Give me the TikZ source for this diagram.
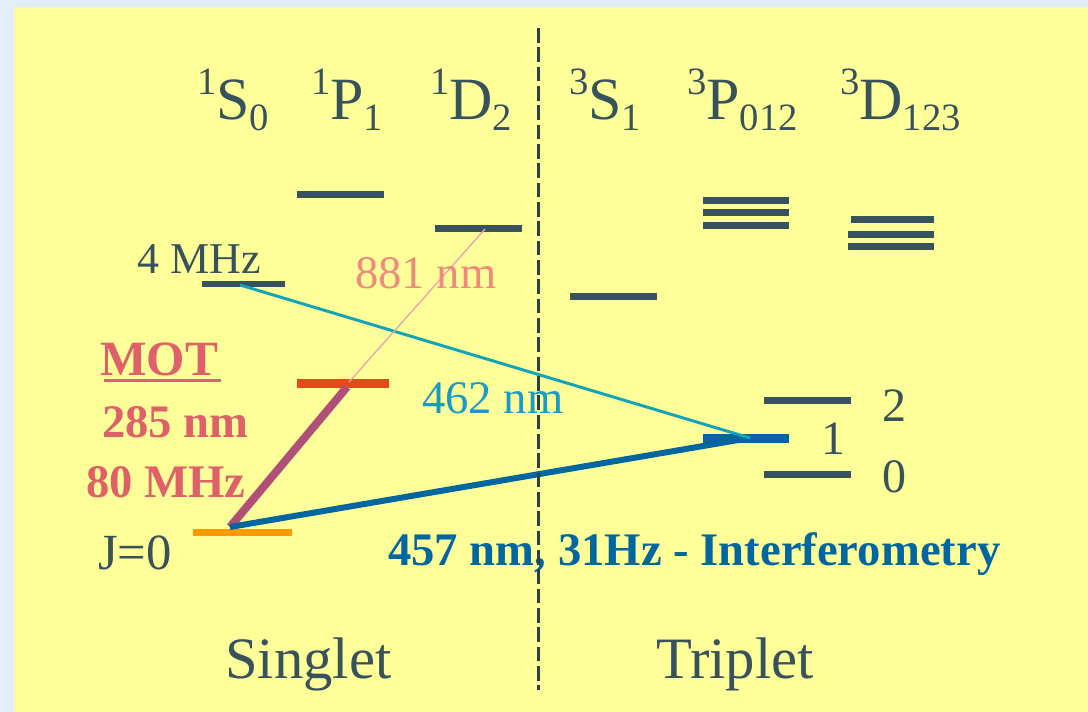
\documentclass[tikz,border=0pt]{standalone}
\usepackage{fontspec}
\setmainfont{Liberation Serif}
\definecolor{slate}{HTML}{37525A}
\definecolor{bgblue}{HTML}{E2EEFB}
\definecolor{yel}{HTML}{FFFF99}
\definecolor{motred}{HTML}{DE6068}
\definecolor{pinkt}{HTML}{F08A7E}
\definecolor{tealt}{HTML}{1A9AC8}
\definecolor{teall}{HTML}{12A4B8}
\definecolor{blueb}{HTML}{0066A0}
\definecolor{orangeg}{HTML}{FF9900}
\definecolor{redp}{HTML}{E84818}
\definecolor{purp}{HTML}{B05078}
\definecolor{pinkl}{HTML}{F0A0B0}
\definecolor{divc}{HTML}{2E3F45}
\newcommand{\trm}[3]{\raisebox{18.75pt}{\fontsize{29}{30}\selectfont #1}#2\raisebox{-8.25pt}{\fontsize{29}{30}\selectfont #3}}
\tikzset{
  txt/.style={inner sep=0pt, anchor=base west},
  term/.style={txt, text=slate, font=\fontsize{45}{48}\selectfont},
  lvl/.style={fill=slate, inner sep=0pt, minimum height=5.25pt},
  lab/.style={txt, text=slate, font=\fontsize{36}{40}\selectfont},
}
\begin{document}
\begin{tikzpicture}[x=0.75pt,y=-0.75pt]
\fill[bgblue] (0,0) rectangle (1088,712);
\fill[yel] (14,7) rectangle (1088,712);
\useasboundingbox (0,0) rectangle (1088,712);

% term labels
\node[term] (tS0) at (197,120) {\trm{1}{S}{0}};
\node[term] (tP1) at (311,120) {\trm{1}{P}{1}};
\node[term] (tD2) at (430,120) {\trm{1}{D}{2}};
\node[term] (tS1) at (569,120) {\trm{3}{S}{1}};
\node[term] (tP3) at (687,120) {\trm{3}{P}{012}};
\node[term] (tD3) at (840,120) {\trm{3}{D}{123}};

% singlet levels
\node[lvl, minimum width=65.25pt] (P1) at (340.5,194.5) {};
\node[lvl, minimum width=65.25pt] (D2) at (478.5,228.5) {};
\node[lvl, minimum width=62.25pt, minimum height=4.5pt] (S0u) at (243.5,284) {};
\node[lvl, fill=redp, minimum width=69pt, minimum height=6.75pt] (P1r) at (343,383.5) {};
\node[lvl, fill=orangeg, minimum width=74.25pt] (G) at (242.5,532.5) {};

% triplet levels
\node[lvl, minimum width=65.25pt] (S1) at (613.5,296.5) {};
\node[lvl, minimum width=64.5pt] (Pa) at (746,200.5) {};
\node[lvl, minimum width=64.5pt] (Pb) at (746,212.5) {};
\node[lvl, minimum width=64.5pt] (Pc) at (746,225.5) {};
\node[lvl, minimum width=62.25pt] (Da) at (892.5,219.5) {};
\node[lvl, minimum width=64.5pt] (Db) at (891,234.5) {};
\node[lvl, minimum width=64.5pt] (Dc) at (891,246.5) {};
\node[lvl, minimum width=65.25pt] (T2) at (807.5,400.5) {};
\node[lvl, fill=blueb, minimum width=64.5pt, minimum height=6.75pt] (T1) at (746,438.5) {};
\node[lvl, minimum width=65.25pt] (T0) at (807.5,474.5) {};

% transition end points
\coordinate (gA) at (230,527);
\coordinate (pA) at (347,387);
\coordinate (pB) at (349,382);
\coordinate (dB) at (485,229);
\coordinate (sA) at (240,285);
\coordinate (tA) at (750,438);

% transitions
\draw[purp, line width=6pt] (gA) -- (pA);
\draw[blueb, line width=4.5pt] (gA) -- (tA);
\draw[teall, line width=2.2pt] (sA) -- (tA);
\draw[pinkl, line width=1pt] (pB) -- (dB);

% labels
\node[txt, text=slate, font=\fontsize{33}{36}\selectfont] (l4) at (137,274) {4 MHz};
\node[txt, text=pinkt, font=\fontsize{35}{40}\selectfont] (l881) at (355,289) {881 nm};
\node[txt, text=tealt, font=\fontsize{35}{40}\selectfont] (l462) at (422,414) {462 nm};
\node[txt, text=motred, font=\bfseries\fontsize{37}{40}\selectfont] (lmot) at (100,376) {MOT};
\draw[motred, line width=2.25pt] (104,381) -- (221,381);
\node[txt, text=motred, font=\bfseries\fontsize{35}{40}\selectfont] (l285) at (102,437) {285 nm};
\node[txt, text=motred, font=\bfseries\fontsize{35}{40}\selectfont] (l80) at (86,497) {80 MHz};
\node[txt, text=slate, font=\fontsize{38}{40}\selectfont] (lJ) at (98,569) {J=0};
\node[txt, text=blueb, font=\bfseries\fontsize{35}{40}\selectfont] (l457) at (388,565) {457 nm, 31Hz - Interferometry};
\node[lab] (n2) at (882,422) {2};
\node[lab] (n1) at (821,455) {1};
\node[lab] (n0) at (882,492) {0};
\node[txt, text=slate, font=\fontsize{44}{48}\selectfont] (sing) at (225,678) {Singlet};
\node[txt, text=slate, font=\fontsize{44}{48}\selectfont] (trip) at (656,678) {Triplet};

% divider
\coordinate (dv1) at (538,28);
\coordinate (dv2) at (538,690);
\draw[divc, line width=2.25pt, dash pattern=on 11pt off 3.5pt] (dv1) -- (dv2);
\end{tikzpicture}
\end{document}
